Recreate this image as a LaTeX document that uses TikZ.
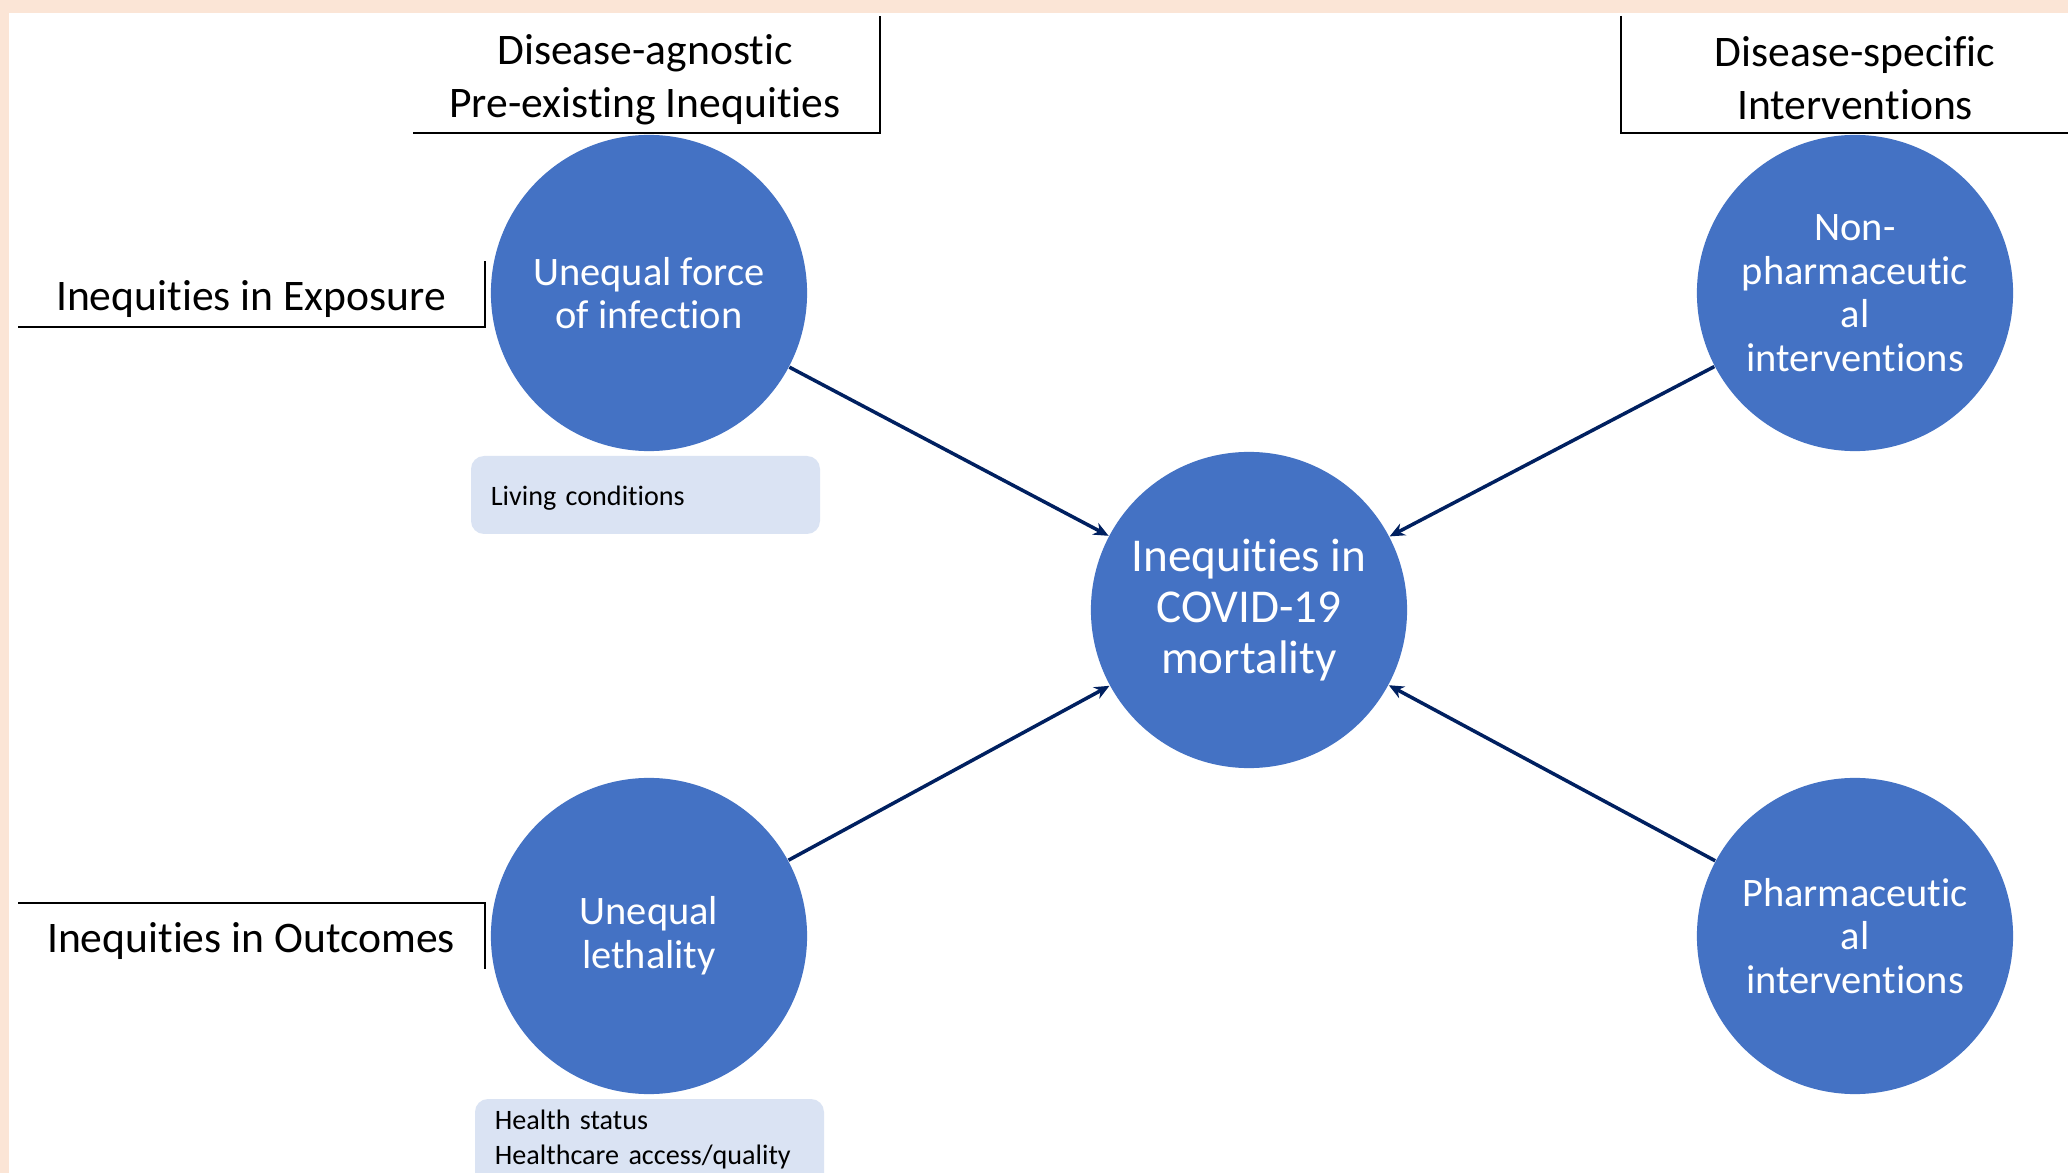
\documentclass[tikz,border=0pt]{standalone}
\usepackage{fontspec}
\setmainfont{Carlito}[Ligatures=NoCommon]
\usetikzlibrary{arrows.meta}
\definecolor{peach}{HTML}{FBE5D6}
\definecolor{cblue}{HTML}{4472C4}
\definecolor{lblue}{HTML}{DAE3F3}
\definecolor{navy}{HTML}{002060}

\begin{document}
\begin{tikzpicture}[x=0.01cm,y=-0.01cm,
  circ/.style={circle,fill=cblue,minimum size=3.16cm,inner sep=0pt,text=white,align=center,font=\fontsize{11.5}{12.4}\selectfont},
  hdr/.style={align=center,font=\fontsize{12.4}{15.1}\selectfont,inner sep=0pt},
  infobox/.style={align=left,font=\fontsize{8}{10.2}\selectfont,inner xsep=0.2cm,text width=3.09cm},
  rule/.style={line width=0.6pt},
  arr/.style={draw=navy,line width=1pt,-{Stealth[length=1.5mm,width=1.3mm]}}]
\useasboundingbox (0,0) rectangle (2068,1173);
\fill[peach] (0,0) rectangle (2068,1173);
\fill[white] (9,13) rectangle (2068,1173);

% headings
\node[hdr] (agn) at (645,80) {Disease-agnostic\\Pre-existing Inequities};
\node[hdr] (spec) at (1855,78) {Disease-specific\\Interventions};
\node[hdr] (expo) at (251,299) {Inequities in Exposure};
\node[hdr] (outc) at (251,941) {Inequities in Outcomes};
\draw[rule] (413,133) -- (880,133) -- (880,16);
\draw[rule] (1621,16) -- (1621,133) -- (2068,133);
\draw[rule] (18,327) -- (485,327) -- (485,261);
\draw[rule] (18,903) -- (485,903) -- (485,969);

% circles
\node[circ] (force) at (649,293) {Unequal force\\of infection};
\node[circ] (npi) at (1855,293) {Non-\\pharmaceutic\\al\\interventions};
\node[circ,font=\fontsize{13.4}{14.6}\selectfont] (mort) at (1249,610) {Inequities in\\COVID-19\\mortality};
\node[circ] (leth) at (649,936) {Unequal\\lethality};
\node[circ] (pi) at (1855,936) {Pharmaceutic\\al\\interventions};

% boxes
\fill[lblue,rounded corners=0.13cm] (471,456) rectangle (820,534);
\node[infobox] (living) at (645.5,498) {Living conditions};
\fill[lblue,rounded corners=0.13cm] (475,1099) rectangle (824,1220);
\node[infobox,anchor=north,inner ysep=2.8pt] (health) at (649.5,1099) {Health status\\Healthcare access/quality};

\draw[arr] (force) -- (mort);
\draw[arr] (leth) -- (mort);
\draw[arr] (npi) -- (mort);
\draw[arr] (pi) -- (mort);
\end{tikzpicture}
\end{document}
